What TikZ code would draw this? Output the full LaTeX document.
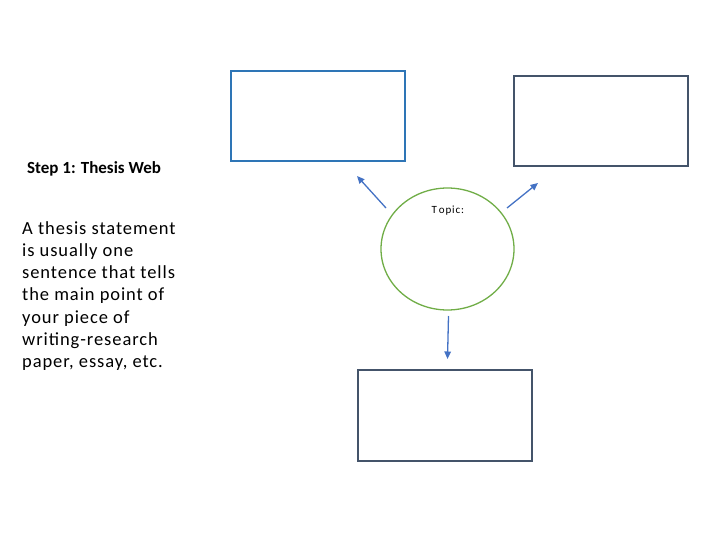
\documentclass[tikz,border=0pt]{standalone}
\usepackage{fontspec}
\setmainfont{Carlito}
\newfontfamily\spacedfont[LetterSpace=5]{Carlito}
\newfontfamily\topicfont[LetterSpace=8]{Carlito}
\usetikzlibrary{arrows.meta,shapes.geometric}
\definecolor{boxblue}{HTML}{2E75B6}
\definecolor{slate}{HTML}{44546A}
\definecolor{circgreen}{HTML}{70AD47}
\definecolor{arrblue}{HTML}{4472C4}
\begin{document}
\begin{tikzpicture}[x=1pt,y=-1pt,
  webbox/.style={draw, line width=1.6pt, minimum width=174pt, minimum height=90pt, inner sep=0pt},
  webarrow/.style={draw=arrblue, line width=1.3pt, -{Triangle[length=7.5pt,width=6.5pt]}}]
\useasboundingbox (0,0) rectangle (720,540);
\node[webbox, draw=boxblue] (b1) at (318,116) {};
\node[webbox, draw=slate] (b2) at (601,121) {};
\node[webbox, draw=slate, minimum height=91pt] (b3) at (445,415.5) {};
\node[ellipse, draw=circgreen, line width=1.3pt, minimum width=133pt, minimum height=122pt, inner sep=0pt] (c) at (447.5,249) {};
\node[font=\topicfont\fontsize{11}{13}\selectfont, anchor=base west, inner sep=0pt] (topic) at (431.5,213.5) {T\,opic:};
\node[font=\fontsize{17}{20}\selectfont\bfseries, anchor=base west, inner sep=0pt] (step) at (27,174) {Step 1: Thesis Web};
\node[font=\spacedfont\fontsize{18.5}{22.3}\selectfont, anchor=north west, inner sep=0pt, align=left] (body) at (22,221) {A thesis statement\\is usually one\\sentence that tells\\the main point of\\your piece of\\writing-research\\paper, essay, etc.};
\coordinate (a1s) at (386,208);
\coordinate (a1e) at (357,176);
\coordinate (a2s) at (507,208);
\coordinate (a2e) at (538,183);
\coordinate (a3s) at (448.5,316);
\coordinate (a3e) at (447.5,359);
\draw[webarrow] (a1s) -- (a1e);
\draw[webarrow] (a2s) -- (a2e);
\draw[webarrow] (a3s) -- (a3e);
\end{tikzpicture}
\end{document}
